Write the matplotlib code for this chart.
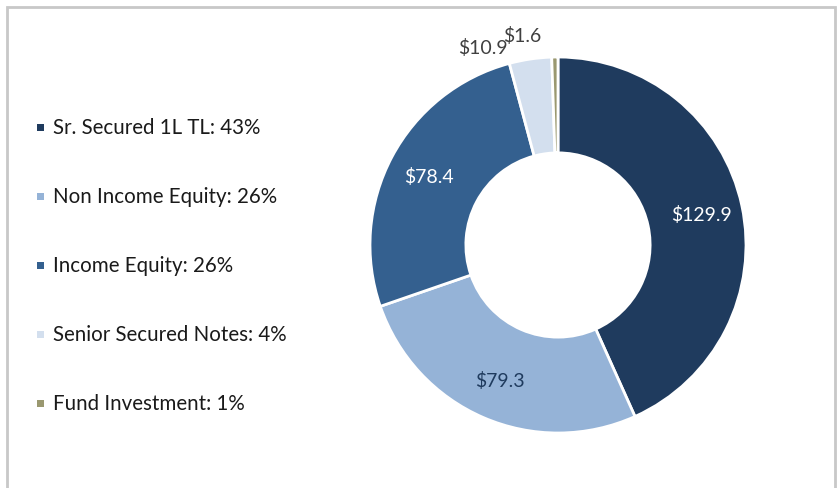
import numpy as np
import matplotlib
matplotlib.use("Agg")
import matplotlib.pyplot as plt
from matplotlib.patches import Rectangle

# data
names = ["Sr. Secured 1L TL", "Non Income Equity", "Income Equity",
         "Senior Secured Notes", "Fund Investment"]
values = [129.9, 79.3, 78.4, 10.9, 1.6]
shares = [43, 26, 26, 4, 1]
colors = ["#1F3B5E", "#95B3D7", "#34608F", "#D3DFEE", "#9A9870"]
label_colors = ["white", "#1F3B5E", "white", "#404040", "#404040"]

plt.rcParams['font.family'] = ['Lato', 'DejaVu Sans']

fig = plt.figure(figsize=(8.4, 4.89), dpi=100)
ax = fig.add_axes([0, 0, 1, 1])

cx, cy, R = 558, 243, 188
wedges, _ = ax.pie(values, colors=colors, startangle=90, counterclock=False,
                   center=(cx, cy), radius=R, frame=True,
                   wedgeprops=dict(width=R * 0.51, edgecolor="white", linewidth=2))
ax.set_xlim(0, 840)
ax.set_ylim(0, 489)
ax.set_aspect("equal")
ax.axis("off")

# outer frame
ax.add_patch(Rectangle((7, -20), 828, 501, fill=False, edgecolor="#C8C8C8", lw=2))

for i, w in enumerate(wedges):
    mid = np.deg2rad((w.theta1 + w.theta2) / 2)
    txt = f"${values[i]:.1f}"
    if values[i] > 20:
        r = 0.78 * R
        ax.text(cx + r * np.cos(mid), cy + r * np.sin(mid), txt, color=label_colors[i],
                ha="center", va="center", fontsize=14)
    elif i == 3:
        a = np.deg2rad(w.theta2)
        r = 1.1 * R
        ax.text(cx + r * np.cos(a) + 3, cy + r * np.sin(a) - 2, txt, color=label_colors[i],
                ha="right", va="center", fontsize=14)
    else:
        r = 1.1 * R
        ax.text(cx + r * np.cos(mid) - 32, cy + r * np.sin(mid) + 3, txt, color=label_colors[i],
                ha="center", va="center", fontsize=14)

# legend
for i, n in enumerate(names):
    y = 489 - (128 + 69 * i)
    ax.add_patch(Rectangle((37, y - 3.5), 7, 7, color=colors[i], lw=0))
    ax.text(53, y, f"{n}: {shares[i]}%", ha="left", va="center",
            fontsize=14.8, color="#1a1a1a")

fig.savefig("out.png", dpi=100, facecolor="white")
